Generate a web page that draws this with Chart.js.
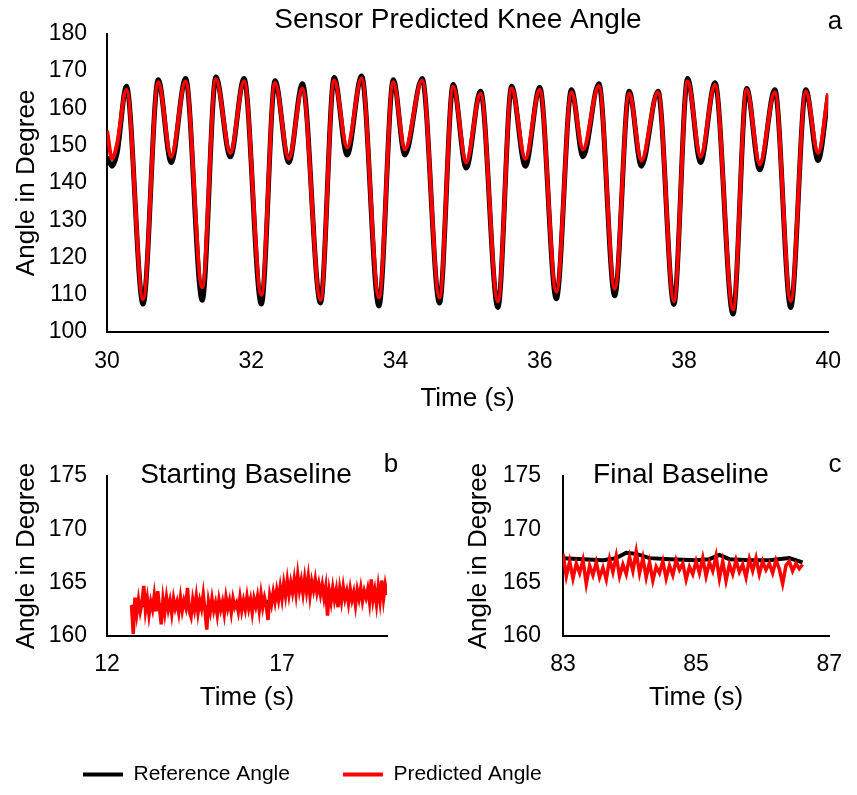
<!DOCTYPE html>
<html>
<head>
<meta charset="utf-8">
<script src="https://cdn.jsdelivr.net/npm/chart.js@4"></script>
<style>
  body { margin: 0; background: #fff; overflow: hidden; }
  .panel { position: absolute; }
</style>
</head>
<body>
<div class="panel" style="left:0;top:0;width:857px;height:415px"><canvas id="chartA"></canvas></div>
<div class="panel" style="left:0;top:440px;width:430px;height:285px"><canvas id="chartB"></canvas></div>
<div class="panel" style="left:430px;top:440px;width:427px;height:285px"><canvas id="chartC"></canvas></div>
<div class="panel" style="left:30px;top:711px;width:800px;height:320px"><canvas id="legend"></canvas></div>
<script>
// panel a - walking, 30 to 40 s
const timeA = [30.00, 30.07, 30.14, 30.27, 30.50, 30.71, 30.89, 31.09, 31.32, 31.51, 31.71, 31.90,
  32.14, 32.33, 32.52, 32.71, 32.96, 33.15, 33.33, 33.53, 33.77, 33.97, 34.13, 34.37,
  34.61, 34.80, 34.98, 35.18, 35.42, 35.61, 35.80, 36.00, 36.23, 36.44, 36.60, 36.82,
  37.04, 37.24, 37.41, 37.64, 37.86, 38.05, 38.23, 38.43, 38.68, 38.87, 39.05, 39.26,
  39.48, 39.69, 39.86, 40.00]
const refA = [147, 144.5, 148, 165.9, 107.5, 167.7, 145.5, 168, 108.5, 168.4, 147, 168,
  107.5, 167.4, 145.5, 166.6, 107.8, 168.3, 147.5, 168.7, 107, 167.7, 147.5, 168,
  107.8, 166.4, 144, 164.6, 106.6, 165.9, 144.5, 165.6, 108.9, 165, 147, 166.6,
  109.7, 164.6, 144.5, 164.6, 107.4, 168, 145.5, 166.9, 104.8, 165.3, 143.5, 165,
  106.6, 165, 146, 163.5]
const predA = [154, 146.5, 150.5, 165, 108.8, 167, 147, 167.3, 112, 167.8, 148, 167.3,
  110, 166.8, 146.5, 165.3, 108.6, 167.5, 149.5, 168, 109.3, 167, 149, 167.5,
  109.3, 165.8, 145.5, 164, 108.3, 165.3, 146.5, 165, 110.8, 164.3, 149, 166,
  111.6, 164, 146, 164.3, 108.3, 167.3, 147, 166.3, 106.1, 165, 145, 164.3,
  108.3, 164.5, 148, 164]

// panel b - starting baseline
const timeBRef = [12.7, 13.5, 14.5, 15.5, 16.3, 16.9, 17.5, 18.0, 18.5, 19.0, 19.5, 20.0]
const refB = [162.8, 162.9, 162.8, 162.6, 162.9, 163.6, 164.4, 164.6, 164.2, 163.8, 163.9, 164.0]
const timeB = [
  12.70, 12.75, 12.80, 12.85, 12.90, 12.95, 13.00, 13.05, 13.10, 13.15,
  13.20, 13.25, 13.30, 13.35, 13.40, 13.45, 13.50, 13.55, 13.60, 13.65,
  13.70, 13.75, 13.80, 13.85, 13.90, 13.95, 14.00, 14.05, 14.10, 14.15,
  14.20, 14.25, 14.30, 14.35, 14.40, 14.45, 14.50, 14.55, 14.60, 14.65,
  14.70, 14.75, 14.80, 14.85, 14.90, 14.95, 15.00, 15.05, 15.10, 15.15,
  15.20, 15.25, 15.30, 15.35, 15.40, 15.45, 15.50, 15.55, 15.60, 15.65,
  15.70, 15.75, 15.80, 15.85, 15.90, 15.95, 16.00, 16.05, 16.10, 16.15,
  16.20, 16.25, 16.30, 16.35, 16.40, 16.45, 16.50, 16.55, 16.60, 16.65,
  16.70, 16.75, 16.80, 16.85, 16.90, 16.95, 17.00, 17.05, 17.10, 17.15,
  17.20, 17.25, 17.30, 17.35, 17.40, 17.45, 17.50, 17.55, 17.60, 17.65,
  17.70, 17.75, 17.80, 17.85, 17.90, 17.95, 18.00, 18.05, 18.10, 18.15,
  18.20, 18.25, 18.30, 18.35, 18.40, 18.45, 18.50, 18.55, 18.60, 18.65,
  18.70, 18.75, 18.80, 18.85, 18.90, 18.95, 19.00, 19.05, 19.10, 19.15,
  19.20, 19.25, 19.30, 19.35, 19.40, 19.45, 19.50, 19.55, 19.60, 19.65,
  19.70, 19.75, 19.80, 19.85, 19.90, 19.95, 20.00]
const predB = [
  162.9, 160.2, 163.6, 162.1, 163.4, 162.3, 163.1, 164.7, 162.4, 163.5,
  162.0, 163.2, 162.5, 163.8, 162.3, 164.2, 162.6, 161.1, 163.4, 162.2,
  163.6, 162.5, 163.3, 162.1, 163.5, 162.6, 163.2, 162.2, 163.6, 162.4,
  163.3, 162.7, 164.5, 162.3, 161.8, 163.4, 162.5, 163.7, 162.2, 163.3,
  162.6, 163.9, 162.4, 160.6, 163.2, 162.3, 163.5, 162.4, 163.1, 162.0,
  163.4, 162.5, 163.2, 162.1, 163.6, 162.6, 163.3, 162.2, 163.5, 162.7,
  163.1, 162.3, 163.6, 162.4, 163.3, 162.5, 163.7, 162.6, 163.4, 162.2,
  163.5, 162.8, 163.7, 162.4, 163.9, 162.7, 163.6, 162.9, 161.5, 163.8,
  163.0, 164.1, 163.2, 164.3, 163.4, 164.6, 163.5, 164.9, 163.8, 165.2,
  163.9, 165.0, 164.1, 165.3, 164.0, 165.7, 164.3, 165.2, 164.0, 165.4,
  164.2, 165.5, 163.8, 165.1, 164.3, 165.3, 164.1, 164.9, 163.9, 164.8,
  163.6, 164.6, 161.9, 164.2, 163.2, 164.5, 163.4, 164.3, 162.7, 164.4,
  163.3, 164.6, 163.5, 164.2, 163.1, 164.4, 163.4, 164.1, 162.9, 164.3,
  163.5, 164.5, 163.3, 164.2, 163.6, 164.4, 163.2, 165.3, 163.4, 164.3,
  163.0, 164.6, 163.3, 165.2, 163.5, 164.8, 163.9]
const ticksB = [12, 17]

// panel c - final baseline
const timeCRef = [83.0, 83.3, 83.6, 83.8, 83.95, 84.1, 84.3, 84.6, 85.0, 85.2, 85.35, 85.5, 85.8, 86.1, 86.4, 86.6]
const refC = [167.3, 167.2, 167.1, 167.3, 167.8, 167.7, 167.3, 167.2, 167.1, 167.2, 167.6, 167.2, 167.1, 167.1, 167.3, 166.9]
const timeC = [83.00, 83.05, 83.10, 83.15, 83.20, 83.25, 83.30, 83.35, 83.40, 83.45, 83.50, 83.55,
  83.60, 83.65, 83.70, 83.75, 83.80, 83.85, 83.90, 83.95, 84.00, 84.05, 84.10, 84.15,
  84.20, 84.25, 84.30, 84.35, 84.40, 84.45, 84.50, 84.55, 84.60, 84.65, 84.70, 84.75,
  84.80, 84.85, 84.90, 84.95, 85.00, 85.05, 85.10, 85.15, 85.20, 85.25, 85.30, 85.35,
  85.40, 85.45, 85.50, 85.55, 85.60, 85.65, 85.70, 85.75, 85.80, 85.85, 85.90, 85.95,
  86.00, 86.05, 86.10, 86.15, 86.20, 86.25, 86.30, 86.35, 86.40, 86.45, 86.50, 86.55, 86.60]
const predC = [167.7, 165.6, 167.0, 165.4, 166.8, 165.9, 167.1, 164.9, 166.6, 165.7, 166.9, 165.5,
  166.4, 165.3, 167.2, 166.0, 167.5, 165.6, 166.7, 165.8, 167.4, 166.1, 167.9, 165.9,
  167.3, 165.5, 166.9, 165.2, 166.5, 165.9, 167.0, 165.4, 166.6, 165.7, 167.1, 166.2,
  166.8, 165.3, 166.5, 165.8, 167.0, 165.9, 167.3, 165.6, 166.9, 166.1, 167.5, 165.4,
  167.0, 165.2, 166.7, 165.8, 167.1, 166.0, 166.7, 165.5, 167.2, 166.1, 167.3, 165.8,
  167.0, 166.2, 166.8, 165.9, 167.1, 166.3, 164.9, 166.6, 167.0, 166.1, 166.8, 166.3, 166.7]

const seriesNames = ['Reference Angle', 'Predicted Angle']

const FONT = "'Liberation Sans', Arial, sans-serif"
const BLACK = '#000000'
const RED = '#ff0000'

function pts(xs, ys) {
  return xs.map((x, i) => ({ x: x, y: ys[i] }))
}

// draws the panel title and letter inside the plot like the original figure
const panelText = {
  id: 'panelText',
  afterDraw(chart, args, opts) {
    const ctx = chart.ctx
    ctx.save()
    ctx.fillStyle = BLACK
    ctx.textAlign = 'center'
    ctx.textBaseline = 'middle'
    ctx.font = '28px ' + FONT
    ctx.fillText(opts.title, opts.titleX, opts.titleY)
    ctx.font = '26px ' + FONT
    ctx.fillText(opts.letter, opts.letterX, opts.letterY)
    ctx.restore()
  }
}

function axes(x, y) {
  const base = {
    grid: { display: false, drawTicks: false },
    border: { display: true, color: BLACK, width: 2 }
  }
  return {
    x: Object.assign({ type: 'linear' }, base, x),
    y: Object.assign({}, base, y)
  }
}

function setTicks(extra) {
  return Object.assign({ color: BLACK, font: { family: FONT, size: 23 } }, extra)
}

function setTitle(text, pad) {
  return { display: true, text: text, color: BLACK, font: { family: FONT, size: 26 }, padding: pad }
}

// red is drawn on top of black (lower order = drawn last)
function series(ref, pred, refW, predW, smooth) {
  return [
    { label: seriesNames[0], data: ref, borderColor: BLACK, borderWidth: refW, pointRadius: 0,
      order: 2, cubicInterpolationMode: smooth ? 'monotone' : 'default' },
    { label: seriesNames[1], data: pred, borderColor: RED, borderWidth: predW, pointRadius: 0,
      order: 1, cubicInterpolationMode: smooth ? 'monotone' : 'default' }
  ]
}

// panel a
new Chart(document.getElementById('chartA'), {
  type: 'line',
  data: { datasets: series(pts(timeA, refA), pts(timeA, predA), 5, 4, true) },
  plugins: [panelText],
  options: {
    responsive: true,
    maintainAspectRatio: false,
    animation: false,
    layout: { padding: { top: 22, right: 17, left: 0, bottom: 0 } },
    scales: axes(
      { min: 30, max: 40, ticks: setTicks({ stepSize: 2, padding: 16 }),
        title: setTitle('Time (s)', { top: 0, bottom: 1 }),
        afterFit(s) { s.height = 83 } },
      { min: 100, max: 180, ticks: setTicks({ stepSize: 10, padding: 20 }),
        title: setTitle('Angle in Degree', { top: 11, bottom: 0 }),
        afterFit(s) { s.width = 107 } }
    ),
    plugins: {
      legend: { display: false },
      tooltip: { enabled: false },
      panelText: { title: 'Sensor Predicted Knee Angle', titleX: 458, titleY: 20, letter: 'a', letterX: 835, letterY: 22 }
    }
  }
})

// panel b
new Chart(document.getElementById('chartB'), {
  type: 'line',
  data: { datasets: series(pts(timeBRef, refB), pts(timeB, predB), 3, 3.5, false) },
  plugins: [panelText],
  options: {
    responsive: true,
    maintainAspectRatio: false,
    animation: false,
    layout: { padding: { top: 36, right: 43, left: 0, bottom: 0 } },
    scales: axes(
      { min: 12, max: 20, ticks: setTicks({ padding: 15 }),
        title: setTitle('Time (s)', { top: 0, bottom: 12 }),
        afterBuildTicks(s) { s.ticks = ticksB.map(v => ({ value: v })) },
        afterFit(s) { s.height = 89 } },
      { min: 160, max: 175, ticks: setTicks({ stepSize: 5, padding: 20 }),
        title: setTitle('Angle in Degree', { top: 11, bottom: 0 }),
        afterFit(s) { s.width = 107 } }
    ),
    plugins: {
      legend: { display: false },
      tooltip: { enabled: false },
      panelText: { title: 'Starting Baseline', titleX: 246, titleY: 35, letter: 'b', letterX: 391, letterY: 25 }
    }
  }
})

// panel c
new Chart(document.getElementById('chartC'), {
  type: 'line',
  data: { datasets: series(pts(timeCRef, refC), pts(timeC, predC), 4, 3.5, false) },
  plugins: [panelText],
  options: {
    responsive: true,
    maintainAspectRatio: false,
    animation: false,
    layout: { padding: { top: 36, right: 16, left: 0, bottom: 0 } },
    scales: axes(
      { min: 83, max: 87, ticks: setTicks({ stepSize: 2, padding: 15 }),
        title: setTitle('Time (s)', { top: 0, bottom: 12 }),
        afterFit(s) { s.height = 89 } },
      { min: 160, max: 175, ticks: setTicks({ stepSize: 5, padding: 22 }),
        title: setTitle('Angle in Degree', { top: 33, bottom: 0 }),
        afterFit(s) { s.width = 133 } }
    ),
    plugins: {
      legend: { display: false },
      tooltip: { enabled: false },
      panelText: { title: 'Final Baseline', titleX: 251, titleY: 35, letter: 'c', letterX: 405, letterY: 25 }
    }
  }
})

// shared legend under the panels
new Chart(document.getElementById('legend'), {
  type: 'line',
  data: {
    datasets: [
      { label: seriesNames[0], data: [], borderColor: BLACK, borderWidth: 4 },
      { label: seriesNames[1], data: [], borderColor: RED, borderWidth: 4 }
    ]
  },
  options: {
    responsive: true,
    maintainAspectRatio: false,
    animation: false,
    scales: { x: { display: false }, y: { display: false } },
    plugins: {
      tooltip: { enabled: false },
      legend: {
        position: 'top',
        align: 'start',
        labels: {
          usePointStyle: true,
          pointStyle: 'line',
          pointStyleWidth: 40,
          padding: 53,
          color: BLACK,
          font: { family: FONT, size: 21 }
        }
      }
    }
  }
})
</script>
</body>
</html>
